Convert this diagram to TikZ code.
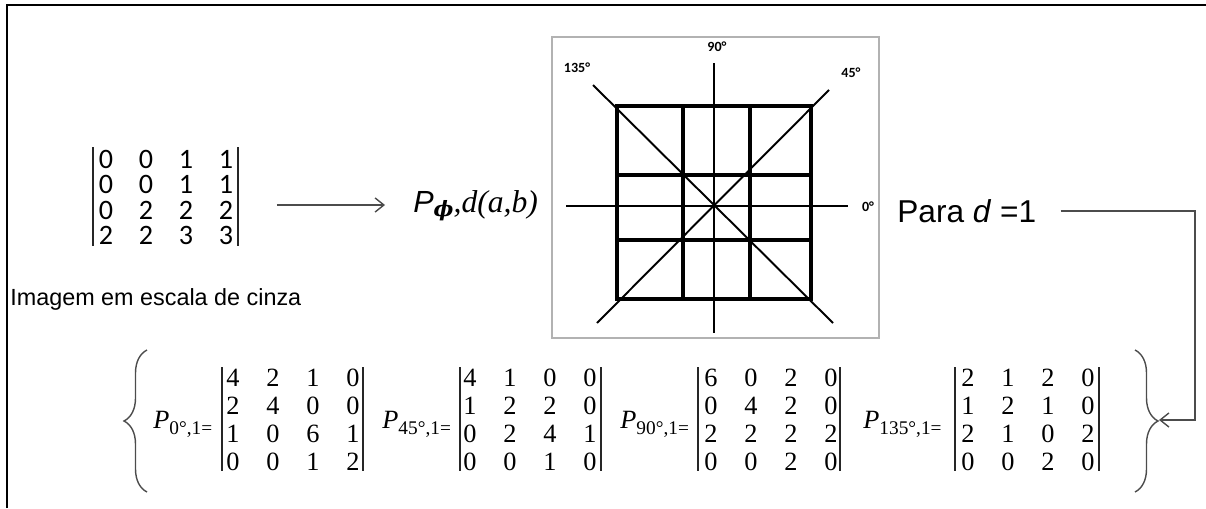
\documentclass[tikz,border=0pt]{standalone}
\usepackage{fontspec}
\usetikzlibrary{arrows.meta,decorations.pathreplacing}
\newfontfamily\arialfont{Liberation Sans}
\newfontfamily\calibrifont{Carlito}
\newfontfamily\timesfont{Liberation Serif}
\newfontfamily\greekfont{DejaVu Serif}

\tikzset{
  gcell/.style={inner sep=0, font=\calibrifont\fontsize{16}{16}\selectfont},
  pcell/.style={inner sep=0, font=\timesfont\fontsize{15}{15}\selectfont},
  plabel/.style={inner sep=0, anchor=base west, font=\timesfont\fontsize{15}{15}\selectfont},
  vbar/.style={line width=1.1pt, black!85},
  angle label/.style={inner sep=0, font=\calibrifont\bfseries\fontsize{8}{8}\selectfont},
  grid line/.style={line width=2pt},
  axis line/.style={line width=1.1pt},
  conn arrow/.style={-{Straight Barb[length=5pt,width=8pt]}, black!70, line width=0.8pt},
  big brace/.style={decorate, decoration={brace, amplitude=0.46cm}, black!70, line width=0.8pt},
}
\colorlet{boxcol}{gray!60}
\newcommand{\psub}[1]{\raisebox{-3.5pt}{\fontsize{11}{11}\selectfont #1}}

\begin{document}
\begin{tikzpicture}[x=0.02cm, y=-0.02cm]
        % 1 unit = 1 px of the 1206 x 508 sheet, y grows downwards
        % gray matrix rows: y = 159 .. 236,  P matrices rows: y = 378 .. 462
        % direction box: x = 552 .. 879, y = 37 .. 338, centre (714,205)
        \useasboundingbox (0,0) rectangle (1206,508);

        % ---- frame (top and left only) ----
        \draw[line width=1.4pt] (7,508) -- (7,5) -- (1206,5);

        % ---- gray level image ----
        \foreach \row [count=\ri from 0] in {{0,0,1,1},{0,0,1,1},{0,2,2,2},{2,2,3,3}} {
          \foreach \v [count=\ci from 0] in \row {
            \pgfmathsetmacro{\cx}{106 + \ci*40}
            \pgfmathsetmacro{\cy}{159 + \ri*25.6}
            \node[gcell] at (\cx, \cy) {\v};
          }
        }
        \draw[vbar] (93,147) -- (93,246);
        \draw[vbar] (238,147) -- (238,246);
        \coordinate (lmat) at (238,205);
        \node[inner sep=0, anchor=base west, font=\arialfont\fontsize{13.3}{13.3}\selectfont]
          (caption) at (10,305) {Imagem em escala de cinza};

        % ---- co-occurrence symbol ----
        \node[inner sep=0, anchor=base west] (pphi) at (413,212)
          {\arialfont\itshape\fontsize{17.4}{17.4}\selectfont P\raisebox{-2.5pt}{\greekfont\bfseries\itshape\fontsize{12}{12}\selectfont ϕ}%
           \timesfont\itshape\fontsize{18}{18}\selectfont,d(a,b)};
        \draw[conn arrow, shorten <=0.78cm, shorten >=0.56cm] (lmat) -- (lmat -| pphi.west);

        % ---- direction box ----
        \draw[boxcol, line width=0.9pt] (552,37) rectangle (879,338);
        \coordinate (o) at (714,205);
        % 3 x 3 grid
        \draw[grid line] (617,106) rectangle (811,299);
        \foreach \gx in {683,750} {
          \draw[grid line] (\gx,106) -- (\gx,299);
        }
        \foreach \gy in {175,240} {
          \draw[grid line] (617,\gy) -- (813,\gy);
        }
        % directions
        \draw[axis line] (566,206) -- (848,206);
        \draw[axis line] (714,63) -- (714,333);
        \draw[axis line] (593,85) -- (833,323);
        \draw[axis line] (829,90) -- (597,323);
        \node[angle label] (a0)   at (868,207) {0°};
        \node[angle label] (a45)  at (851,73)  {45°};
        \node[angle label] (a90)  at (717,47)  {90°};
        \node[angle label] (a135) at (577,68)  {135°};

        % ---- distance ----
        \node[inner sep=0, anchor=west, font=\arialfont\fontsize{18}{18}\selectfont]
          (para) at (897,211) {Para \textit{d} =1};

        % ---- braces ----
        \draw[big brace] (147,492) -- (147,350);
        \draw[big brace] (1135,350) -- (1135,492);
        \coordinate (rtip) at (1159,420);
        \coordinate (corner) at (1195,420);
        \draw[conn arrow] ([xshift=0.48cm]para.east) -| (corner) -- (rtip);

        % ---- P 0 ----
        \node[plabel] (p0) at (153,428) {\textit{P}\psub{0°,1=}};
        \foreach \row [count=\ri from 0] in {{4,2,1,0},{2,4,0,0},{1,0,6,1},{0,0,1,2}} {
          \foreach \v [count=\ci from 0] in \row {
            \pgfmathsetmacro{\cx}{233 + \ci*40}
            \pgfmathsetmacro{\cy}{378 + \ri*28}
            \node[pcell] at (\cx, \cy) {\v};
          }
        }
        \draw[vbar] (222,367) -- (222,471);
        \draw[vbar] (363,367) -- (363,471);

        % ---- P 45 ----
        \node[plabel] (p45) at (382,428) {\textit{P}\psub{45°,1=}};
        \foreach \row [count=\ri from 0] in {{4,1,0,0},{1,2,2,0},{0,2,4,1},{0,0,1,0}} {
          \foreach \v [count=\ci from 0] in \row {
            \pgfmathsetmacro{\cx}{470 + \ci*40}
            \pgfmathsetmacro{\cy}{378 + \ri*28}
            \node[pcell] at (\cx, \cy) {\v};
          }
        }
        \draw[vbar] (460,367) -- (460,471);
        \draw[vbar] (601,367) -- (601,471);

        % ---- P 90 ----
        \node[plabel] (p90) at (620,428) {\textit{P}\psub{90°,1=}};
        \foreach \row [count=\ri from 0] in {{6,0,2,0},{0,4,2,0},{2,2,2,2},{0,0,2,0}} {
          \foreach \v [count=\ci from 0] in \row {
            \pgfmathsetmacro{\cx}{711 + \ci*40}
            \pgfmathsetmacro{\cy}{378 + \ri*28}
            \node[pcell] at (\cx, \cy) {\v};
          }
        }
        \draw[vbar] (698,367) -- (698,471);
        \draw[vbar] (840,367) -- (840,471);

        % ---- P 135 ----
        \node[plabel] (p135) at (863,428) {\textit{P}\psub{135°,1=}};
        \foreach \row [count=\ri from 0] in {{2,1,2,0},{1,2,1,0},{2,1,0,2},{0,0,2,0}} {
          \foreach \v [count=\ci from 0] in \row {
            \pgfmathsetmacro{\cx}{968 + \ci*40}
            \pgfmathsetmacro{\cy}{378 + \ri*28}
            \node[pcell] at (\cx, \cy) {\v};
          }
        }
        \draw[vbar] (955,367) -- (955,471);
        \draw[vbar] (1099,367) -- (1099,471);
      \end{tikzpicture}
\end{document}
